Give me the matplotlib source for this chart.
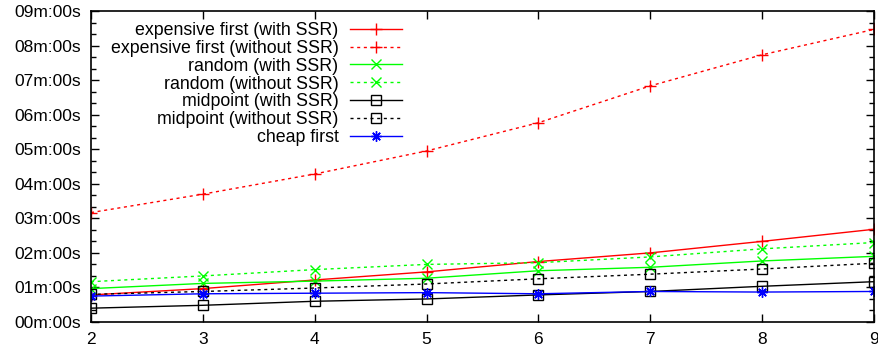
import matplotlib
matplotlib.use("Agg")
import matplotlib.pyplot as plt
from matplotlib.ticker import FuncFormatter, MultipleLocator

plt.rcParams['font.family'] = ['Liberation Sans', 'DejaVu Sans']
plt.rcParams['lines.scale_dashes'] = False

x = [2, 3, 4, 5, 6, 7, 8, 9]
# values in seconds
exp_ssr = [47, 58, 73, 87, 105, 120, 140, 161]
exp_nossr = [190, 222, 257, 297, 346, 410, 464, 508]
rand_ssr = [58, 67, 71, 76, 89, 95, 106, 114]
rand_nossr = [70, 80, 91, 100, 103, 113, 127, 138]
mid_ssr = [24, 29, 36, 40, 47, 53, 62, 70]
mid_nossr = [48, 53, 59, 66, 75, 83, 92, 102]
cheap = [45, 49, 50, 51, 49, 53, 52, 53]

labels = ["expensive first (with SSR)", "expensive first (without SSR)",
          "random (with SSR)", "random (without SSR)",
          "midpoint (with SSR)", "midpoint (without SSR)", "cheap first"]

fig = plt.figure(figsize=(8.79, 3.51), dpi=100)
ax = fig.add_axes([91/879, 29/351, 783/879, 311/351])

dot = (0, (2.2, 2.6))
lw = 1.0
ax.plot(x, exp_ssr, color='#ff0000', lw=lw, marker='+', ms=8, mew=1, label=labels[0])
ax.plot(x, exp_nossr, color='#ff0000', lw=lw, ls=dot, marker='+', ms=8, mew=1, label=labels[1])
ax.plot(x, rand_ssr, color='#00ff00', lw=lw, marker='x', ms=6.5, mew=1, label=labels[2])
ax.plot(x, rand_nossr, color='#00ff00', lw=lw, ls=dot, marker='x', ms=6.5, mew=1, label=labels[3])
ax.plot(x, mid_ssr, color='black', lw=lw, marker='s', ms=6.5, mew=1, mfc='none', label=labels[4])
ax.plot(x, mid_nossr, color='black', lw=lw, ls=dot, marker='s', ms=6.5, mew=1, mfc='none', label=labels[5])
ax.plot(x, cheap, color='#0000ff', lw=lw, marker=(8, 2, 0), ms=7.5, mew=1, label=labels[6])

ax.set_xlim(2, 9)
ax.set_ylim(0, 540)
ax.xaxis.set_major_locator(MultipleLocator(1))
ax.yaxis.set_major_locator(MultipleLocator(60))
ax.yaxis.set_minor_locator(MultipleLocator(20))
ax.yaxis.set_major_formatter(FuncFormatter(lambda v, p: "%02dm:%02ds" % (int(v) // 60, int(v) % 60)))

ax.tick_params(axis='both', which='both', direction='in', top=True, right=True, labelsize=12.5)
ax.tick_params(axis='both', which='major', length=6, width=1)
ax.tick_params(axis='y', which='minor', length=3.5, width=1)
ax.tick_params(axis='y', which='major', pad=7)
ax.tick_params(axis='x', which='major', pad=7)
for s in ax.spines.values():
    s.set_linewidth(1.2)

leg = ax.legend(loc='upper right', bbox_to_anchor=(0.397, 0.965), markerfirst=False,
                frameon=False, fontsize=12.8, handlelength=2.9, handletextpad=0.67,
                labelspacing=0.05, borderpad=0, borderaxespad=0)

fig.savefig("out.png", dpi=100)
